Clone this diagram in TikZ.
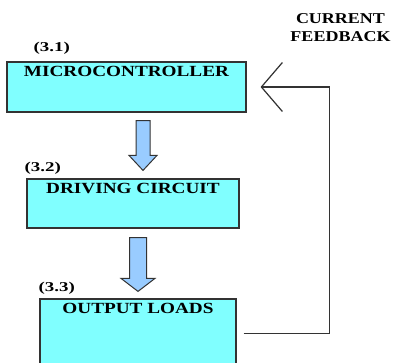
\documentclass[tikz,border=0pt]{standalone}
\usepackage{fontspec}
\usepackage{tikz}
\usetikzlibrary{calc, positioning, arrows.meta}
\newfontfamily\boxfont{Liberation Serif}[FakeStretch=1.24]
\newfontfamily\tagfont{Liberation Serif}[FakeStretch=1.4]
\newfontfamily\fbfont{Liberation Serif}[FakeStretch=1.2]
\definecolor{boxcyan}{HTML}{80FFFF}
\definecolor{arrowblue}{HTML}{99CCFF}
\definecolor{edgegray}{HTML}{333333}
\tikzset{
	block/.style={draw=edgegray, fill=boxcyan, line width=1.2pt, inner sep=0pt},
	blocktitle/.style={anchor=north, inner sep=0pt, font=\boxfont\bfseries\fontsize{15.5}{17}\selectfont},
	tag/.style={inner sep=0pt, font=\tagfont\bfseries\fontsize{13.5}{15}\selectfont},
	blockarrow/.style={draw=edgegray, fill=arrowblue, line width=1pt, line join=miter},
	feedback/.style={draw=edgegray, line width=1.2pt, -{Straight Barb[length=21pt, width=49pt]}},
}
\newcommand{\blockarrow}[5]{% top, tip, half shaft, half head, head length
	\filldraw[blockarrow] ($(#1)+(-#3,0)$) -- ($(#1)+(#3,0)$) -- ($(#2)+(#3,-#5)$) -- ($(#2)+(#4,-#5)$)
		-- (#2) -- ($(#2)+(-#4,-#5)$) -- ($(#2)+(-#3,-#5)$) -- cycle;
}

\begin{document}
\begin{tikzpicture}[x=1pt, y=-1pt]
		\useasboundingbox (0,0) rectangle (393,363);

		% blocks
		\node[block, minimum width=239pt, minimum height=50pt] (mcu) at (126.5,87) {};
		\node[block, minimum width=212pt, minimum height=49pt] (drv) at (133,203.5) {};
		\node[block, minimum width=196pt, minimum height=69pt] (loads) at (138,333.5) {};

		\node[blocktitle, below=5pt of mcu.north] (mcutitle) {MICROCONTROLLER};
		\node[blocktitle, below=4.5pt of drv.north] (drvtitle) {DRIVING CIRCUIT};
		\node[blocktitle, below=5pt of loads.north] (loadstitle) {OUTPUT LOADS};

		\node[tag, above right=6.5pt and 27pt of mcu.north west] (mcutag) {(3.1)};
		\node[tag, above right=3.5pt and -2pt of drv.north west] (drvtag) {(3.2)};
		\node[tag, above right=3.5pt and -1pt of loads.north west] (loadstag) {(3.3)};

		% arrows between blocks
		\coordinate (a1top) at ($(mcu.south)+(16.5,8)$);
		\coordinate (a1tip) at ($(drv.north)+(10,-8)$);
		\coordinate (a2top) at ($(drv.south)+(5,9)$);
		\coordinate (a2tip) at ($(loads.north)+(0,-7)$);
		\blockarrow{a1top}{a1tip}{7}{14}{15}
		\blockarrow{a2top}{a2tip}{8.5}{17}{13}

		% current feedback
		\coordinate (fbout) at ($(loads.east)+(7,0)$);
		\coordinate (fbcorner) at ($(mcu.east)+(83,0)$);
		\coordinate (fbtip) at ($(mcu.east)+(14,0)$);
		\draw[feedback] (fbout) -| (fbcorner) -- (fbtip);
		\node[align=center, anchor=north, inner sep=0pt, font=\fbfont\bfseries\fontsize{15}{18}\selectfont] (fbtext) at (340.5,13) {CURRENT\\FEEDBACK};
	\end{tikzpicture}
\end{document}
